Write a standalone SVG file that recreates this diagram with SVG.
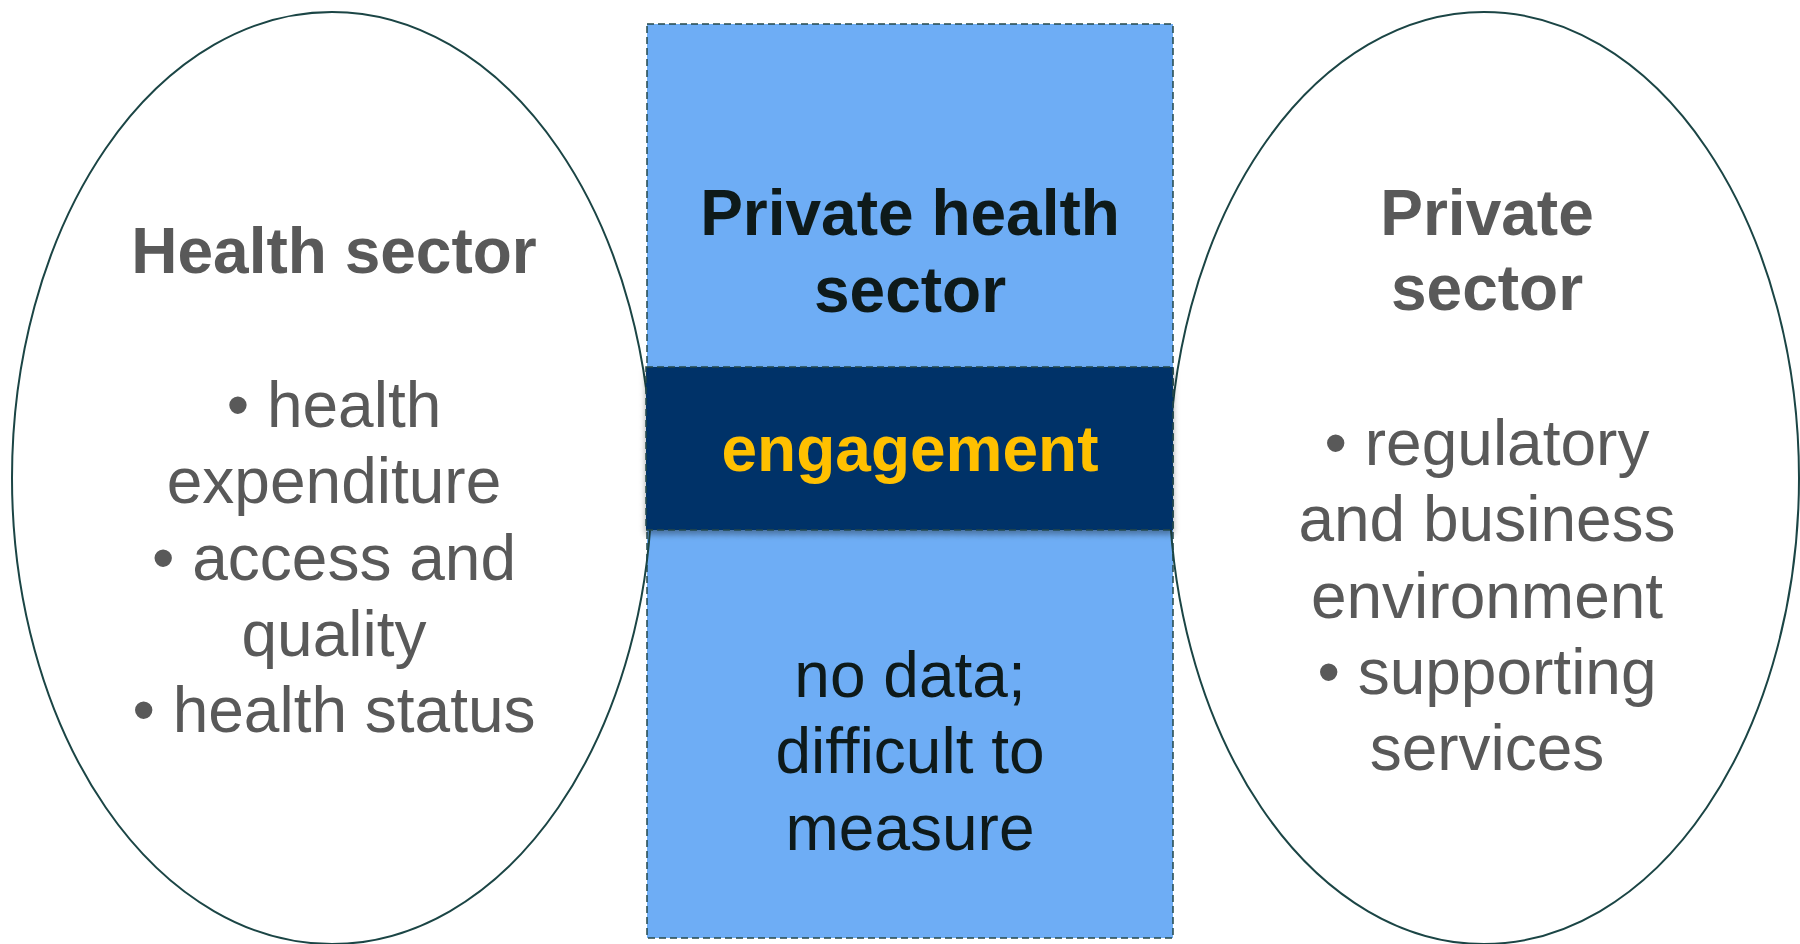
<svg xmlns="http://www.w3.org/2000/svg" width="1800" height="944" viewBox="0 0 1800 944">
<defs>
<style>
.ell{fill:none;stroke:#1B4545;stroke-width:2}
.box{stroke:#24484A;stroke-width:1.5;stroke-dasharray:7 4}
.t{font-family:"Liberation Sans",Arial,sans-serif;font-size:64px;text-anchor:middle}
.b{font-weight:bold}
.gray{fill:#595959}
.dark{fill:#0E1A1A}
.yel{fill:#FFC000}
</style>
<filter id="sh" x="-5%" y="-20%" width="110%" height="150%">
<feDropShadow dx="0" dy="4" stdDeviation="3" flood-color="#000" flood-opacity="0.35"/>
</filter>
</defs>
<rect width="1800" height="944" fill="#fff"/>
<g id="private-health-sector">
<rect class="box" x="647" y="24" width="526" height="914" fill="#6EADF5"/>
<text class="t b dark" x="910" y="235">Private health</text>
<text class="t b dark" x="910" y="312">sector</text>
<text class="t dark" x="910" y="697">no data;</text>
<text class="t dark" x="910" y="773">difficult to</text>
<text class="t dark" x="910" y="850">measure</text>
</g>
<g id="health-sector">
<ellipse class="ell" cx="332" cy="478" rx="320" ry="466"/>
<text class="t b gray" x="334" y="273">Health sector</text>
<text class="t gray" x="334" y="427">• health</text>
<text class="t gray" x="334" y="503">expenditure</text>
<text class="t gray" x="334" y="580">• access and</text>
<text class="t gray" x="334" y="656">quality</text>
<text class="t gray" x="334" y="732">• health status</text>
</g>
<g id="private-sector">
<ellipse class="ell" cx="1484" cy="478" rx="315" ry="466"/>
<text class="t b gray" x="1487" y="235">Private</text>
<text class="t b gray" x="1487" y="310">sector</text>
<text class="t gray" x="1487" y="465">• regulatory</text>
<text class="t gray" x="1487" y="541">and business</text>
<text class="t gray" x="1487" y="618">environment</text>
<text class="t gray" x="1487" y="694">• supporting</text>
<text class="t gray" x="1487" y="770">services</text>
</g>
<g id="engagement">
<rect class="box" x="646" y="367" width="527" height="163" fill="#063067" filter="url(#sh)"/>
<text class="t b yel" x="910" y="471">engagement</text>
</g>
<g id="connectors"/>
</svg>
